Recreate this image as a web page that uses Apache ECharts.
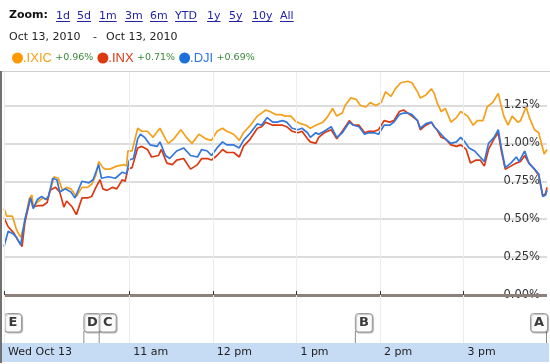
<!DOCTYPE html>
<html><head><meta charset="utf-8">
<script src="https://cdn.jsdelivr.net/npm/echarts@6/dist/echarts.min.js"></script>
<style>html,body{margin:0;padding:0;background:#fff}#c{width:550px;height:364px}</style>
</head><body><div id="c"></div>
<script>
// ---------- data ----------
const seriesNames = ['.IXIC', '.INX', '.DJI'];
const seriesChanges = ['+0.96%', '+0.71%', '+0.69%'];
// [minutes since 9:30 am, % change]
const ixic = [[0,0.57],[2,0.52],[6,0.52],[9,0.43],[12,0.38],[15,0.48],[18,0.63],[20,0.66],[21,0.58],[25,0.62],[28,0.64],[31,0.63],[33,0.68],[36,0.78],[39,0.77],[42,0.69],[45,0.71],[48,0.70],[52,0.65],[56,0.71],[60,0.71],[63,0.73],[66,0.79],[68,0.88],[71,0.84],[73,0.83],[76,0.83],[81,0.85],[86,0.86],[88,0.85],[89,0.95],[92,0.95],[96,1.10],[99,1.08],[103,1.08],[107,1.04],[112,1.10],[116,1.03],[118,1.00],[122,1.03],[127,1.09],[131,1.04],[135,1.00],[140,1.06],[145,1.03],[149,1.02],[153,1.08],[157,1.10],[160,1.08],[165,1.06],[169,1.02],[172,1.07],[177,1.12],[182,1.18],[185,1.20],[188,1.22],[191,1.21],[195,1.19],[199,1.19],[202,1.18],[206,1.18],[209,1.15],[213,1.13],[217,1.12],[220,1.10],[224,1.12],[229,1.14],[232,1.17],[236,1.23],[239,1.18],[243,1.20],[245,1.25],[249,1.30],[253,1.29],[256,1.25],[260,1.24],[263,1.27],[267,1.25],[271,1.27],[274,1.34],[278,1.31],[281,1.36],[285,1.40],[290,1.41],[293,1.40],[297,1.34],[299,1.30],[303,1.32],[307,1.36],[309,1.33],[311,1.27],[314,1.21],[317,1.23],[321,1.14],[325,1.17],[328,1.21],[333,1.18],[337,1.12],[340,1.15],[344,1.15],[347,1.24],[351,1.27],[355,1.33],[357,1.25],[359,1.18],[362,1.12],[365,1.18],[369,1.14],[371,1.15],[375,1.24],[377,1.18],[381,1.09],[384,1.07],[388,0.93],[390,0.96]];
const inx = [[0,0.51],[3,0.45],[7,0.41],[10,0.36],[13,0.32],[15,0.48],[19,0.64],[21,0.58],[25,0.59],[28,0.59],[31,0.61],[33,0.69],[37,0.71],[40,0.68],[43,0.58],[45,0.62],[49,0.58],[52,0.53],[56,0.64],[60,0.64],[63,0.65],[66,0.71],[69,0.76],[71,0.70],[74,0.69],[78,0.71],[81,0.70],[85,0.76],[87,0.75],[89,0.83],[92,0.84],[96,0.97],[99,0.98],[103,0.96],[106,0.91],[111,0.92],[113,0.96],[117,0.87],[121,0.86],[124,0.89],[129,0.90],[134,0.83],[139,0.86],[142,0.90],[146,0.90],[149,0.89],[153,0.92],[157,0.96],[160,0.94],[165,0.94],[169,0.91],[172,0.98],[177,1.03],[182,1.10],[185,1.11],[188,1.14],[193,1.12],[196,1.12],[200,1.12],[203,1.11],[207,1.08],[211,1.07],[214,1.08],[218,1.03],[220,1.01],[224,1.00],[226,1.04],[230,1.07],[235,1.09],[239,1.03],[243,1.08],[248,1.15],[251,1.12],[255,1.12],[259,1.07],[262,1.08],[266,1.08],[269,1.09],[273,1.15],[277,1.14],[280,1.15],[284,1.21],[287,1.22],[290,1.20],[293,1.18],[297,1.15],[299,1.09],[303,1.12],[307,1.14],[309,1.11],[311,1.09],[314,1.04],[317,1.03],[321,0.99],[325,0.98],[328,0.99],[332,0.96],[335,0.87],[339,0.89],[342,0.89],[345,0.85],[348,0.96],[352,1.03],[355,1.07],[357,0.96],[360,0.83],[364,0.85],[368,0.87],[371,0.88],[374,0.92],[377,0.87],[381,0.83],[384,0.79],[387,0.65],[389,0.67],[390,0.71]];
const dji = [[0,0.32],[3,0.42],[7,0.40],[9,0.38],[12,0.33],[15,0.50],[19,0.64],[21,0.57],[24,0.63],[27,0.65],[30,0.63],[32,0.65],[35,0.77],[38,0.76],[40,0.68],[44,0.70],[48,0.68],[51,0.64],[56,0.75],[61,0.74],[64,0.76],[68,0.86],[70,0.77],[71,0.76],[75,0.78],[80,0.77],[85,0.81],[88,0.80],[90,0.89],[93,0.90],[96,1.03],[98,1.06],[101,1.04],[105,0.99],[110,0.98],[112,1.01],[116,0.92],[119,0.90],[124,0.95],[129,0.97],[134,0.92],[139,0.91],[142,0.96],[146,0.95],[149,0.92],[153,0.97],[157,1.01],[160,0.99],[165,0.99],[169,0.97],[172,1.02],[177,1.07],[182,1.13],[185,1.12],[189,1.17],[193,1.14],[196,1.14],[200,1.15],[203,1.14],[207,1.10],[211,1.09],[214,1.10],[218,1.07],[220,1.04],[224,1.07],[226,1.06],[230,1.08],[235,1.11],[239,1.04],[243,1.07],[248,1.14],[251,1.12],[255,1.11],[259,1.06],[262,1.07],[266,1.07],[269,1.06],[273,1.12],[277,1.12],[280,1.14],[284,1.19],[287,1.20],[290,1.20],[293,1.19],[297,1.15],[299,1.10],[303,1.13],[307,1.14],[309,1.11],[311,1.09],[314,1.06],[317,1.03],[321,1.00],[325,1.01],[328,1.04],[331,1.01],[334,0.97],[338,0.95],[341,0.92],[345,0.88],[348,1.00],[352,1.04],[355,1.09],[357,0.98],[360,0.84],[364,0.87],[368,0.91],[370,0.88],[374,0.95],[377,0.87],[381,0.83],[384,0.80],[387,0.65],[389,0.66],[390,0.69]];
const xTickTimes = [0, 90, 150, 210, 270, 330];
const xTickLabels = ['Wed Oct 13', '11 am', '12 pm', '1 pm', '2 pm', '3 pm'];
const yTickValues = [0, 0.25, 0.5, 0.75, 1, 1.25];
const flagLetters = ['E', 'D', 'C', 'B', 'A'];
const flagTimes = [0, 57, 68, 252, 390];
const zoomLinks = ['1d', '5d', '1m', '3m', '6m', 'YTD', '1y', '5y', '10y', 'All'];
const dateFrom = 'Oct 13, 2010';
const dateTo = 'Oct 13, 2010';

// ---------- layout / style ----------
const colors = ['#f5a01a', '#dc3912', '#3377dd'];
const legendDot = ['#ff9900', '#dc3912', '#1e6fdc'];
const nameKeys = ['i', 'n', 'd'];
const linkX = [56, 77, 99, 125, 150, 175, 207, 229, 252, 280];
const VFONT = '"DejaVu Sans", Verdana, sans-serif';

const measureCtx = document.createElement('canvas').getContext('2d');
function textW(t, font) { measureCtx.font = font; return measureCtx.measureText(t).width; }

const graphics = [];
graphics.push({type: 'text', left: 9, top: 10, z: 5, style: {text: 'Zoom:', font: 'bold 11px ' + VFONT, fill: '#111'}});
zoomLinks.forEach((l, i) => {
  const f = '11px ' + VFONT;
  graphics.push({type: 'text', x: linkX[i], y: 10.5, z: 5, style: {text: l, font: f, fill: '#2323a8'}});
  graphics.push({type: 'line', z: 5, shape: {x1: linkX[i], y1: 21.5, x2: linkX[i] + textW(l, f), y2: 21.5}, style: {stroke: '#2323a8', lineWidth: 1}});
});
graphics.push({type: 'text', x: 9, y: 32, z: 5, style: {text: dateFrom, font: '11px ' + VFONT, fill: '#222'}});
graphics.push({type: 'text', x: 93, y: 32, z: 5, style: {text: '-', font: '11px ' + VFONT, fill: '#222'}});
graphics.push({type: 'text', x: 106, y: 32, z: 5, style: {text: dateTo, font: '11px ' + VFONT, fill: '#222'}});
// frame pieces
graphics.push({type: 'rect', z: 0, shape: {x: 2, y: 343, width: 547, height: 19}, style: {fill: '#c6dbf4'}});
graphics.push({type: 'line', z: 1, shape: {x1: 2, y1: 71.5, x2: 550, y2: 71.5}, style: {stroke: '#cfcfcf', lineWidth: 1}});
graphics.push({type: 'rect', z: 6, shape: {x: 0, y: 71, width: 2, height: 292}, style: {fill: '#727272'}});

const rich = {
  i: {color: colors[0], fontFamily: '"Liberation Sans", Arial, sans-serif', fontSize: 13},
  n: {color: colors[1], fontFamily: '"Liberation Sans", Arial, sans-serif', fontSize: 13},
  d: {color: colors[2], fontFamily: '"Liberation Sans", Arial, sans-serif', fontSize: 13},
  g: {color: '#3a8a3a', fontFamily: VFONT, fontSize: 9.5}
};

const chart = echarts.init(document.getElementById('c'), null, {renderer: 'canvas'});
chart.setOption({
  animation: false,
  backgroundColor: '#fff',
  color: colors,
  grid: {left: 4, right: 3, top: 72, bottom: 21},
  legend: {
    left: 7, top: 46.5, itemGap: 4, itemWidth: 11, itemHeight: 11, icon: 'circle',
    data: seriesNames.map((n, i) => ({name: n, itemStyle: {color: legendDot[i]}})),
    formatter: name => {
      const i = seriesNames.indexOf(name);
      return '{' + nameKeys[i] + '|' + name + '} {g|' + seriesChanges[i] + '}';
    },
    textStyle: {rich: rich, padding: [0, 0, 0, -5]}
  },
  xAxis: {
    type: 'value', min: 0, max: 390, z: 10,
    axisLine: {show: false},
    axisTick: {show: true, inside: true, length: 4, customValues: xTickTimes, lineStyle: {color: '#333'}},
    axisLabel: {
      customValues: xTickTimes, margin: 4, align: 'left', padding: [0, 0, 0, 4],
      color: '#222', fontSize: 11, fontFamily: VFONT, hideOverlap: false,
      formatter: v => xTickLabels[xTickTimes.indexOf(v)]
    },
    splitLine: {show: true, lineStyle: {color: '#ececec', width: 1}}
  },
  yAxis: {
    type: 'value', position: 'right', min: -0.317, max: 1.471,
    axisLine: {show: false},
    axisTick: {show: false, customValues: yTickValues},
    axisLabel: {
      customValues: yTickValues, inside: true, margin: 7, align: 'right', verticalAlign: 'middle',
      padding: [0, 0, 11, 0], color: '#333', fontSize: 11.5, fontFamily: VFONT,
      formatter: v => v.toFixed(2) + '%'
    },
    splitLine: {show: true, lineStyle: {color: '#dcdcdc', width: 2}}
  },
  graphic: graphics,
  series: [
    {name: seriesNames[0], type: 'line', data: ixic, showSymbol: false, symbol: 'none', lineStyle: {width: 1.7}, z: 3,
     markLine: {silent: true, symbol: ['none', 'none'], label: {show: false}, lineStyle: {color: '#8e807b', width: 3, type: 'solid'}, data: [{yAxis: 0}]}},
    {name: seriesNames[1], type: 'line', data: inx, showSymbol: false, symbol: 'none', lineStyle: {width: 1.7}, z: 4},
    {name: seriesNames[2], type: 'line', data: dji, showSymbol: false, symbol: 'none', lineStyle: {width: 1.7}, z: 5},
    {
      type: 'custom', z: 8, silent: true, clip: false,
      data: flagTimes.map(t => [t, 0]),
      renderItem: (params, api) => {
        const x = api.coord([api.value(0), 0])[0];
        const cs = params.coordSys;
        const bottom = cs.y + cs.height;
        const w = 17, h = 18.5;
        const bx = (x + w > cs.x + cs.width + 1) ? x - w : x;
        const sx = bx === x ? x + 0.5 : x - 0.5;
        return {type: 'group', children: [
          {type: 'line', shape: {x1: sx, y1: bottom - 12, x2: sx, y2: bottom}, style: {stroke: '#8a8a8a', lineWidth: 1}},
          {type: 'rect', shape: {x: bx + 0.5, y: bottom - 29.5, width: w, height: h, r: 3}, style: {fill: '#fafafa', stroke: '#9a9a9a', lineWidth: 1, shadowColor: 'rgba(0,0,0,0.25)', shadowOffsetX: 1, shadowOffsetY: 1, shadowBlur: 1}},
          {type: 'text', style: {text: flagLetters[params.dataIndex], x: bx + 0.5 + w / 2, y: bottom - 20, align: 'center', verticalAlign: 'middle', font: 'bold 13px ' + VFONT, fill: '#3a3a3a'}}
        ]};
      }
    }
  ]
});
</script></body></html>
